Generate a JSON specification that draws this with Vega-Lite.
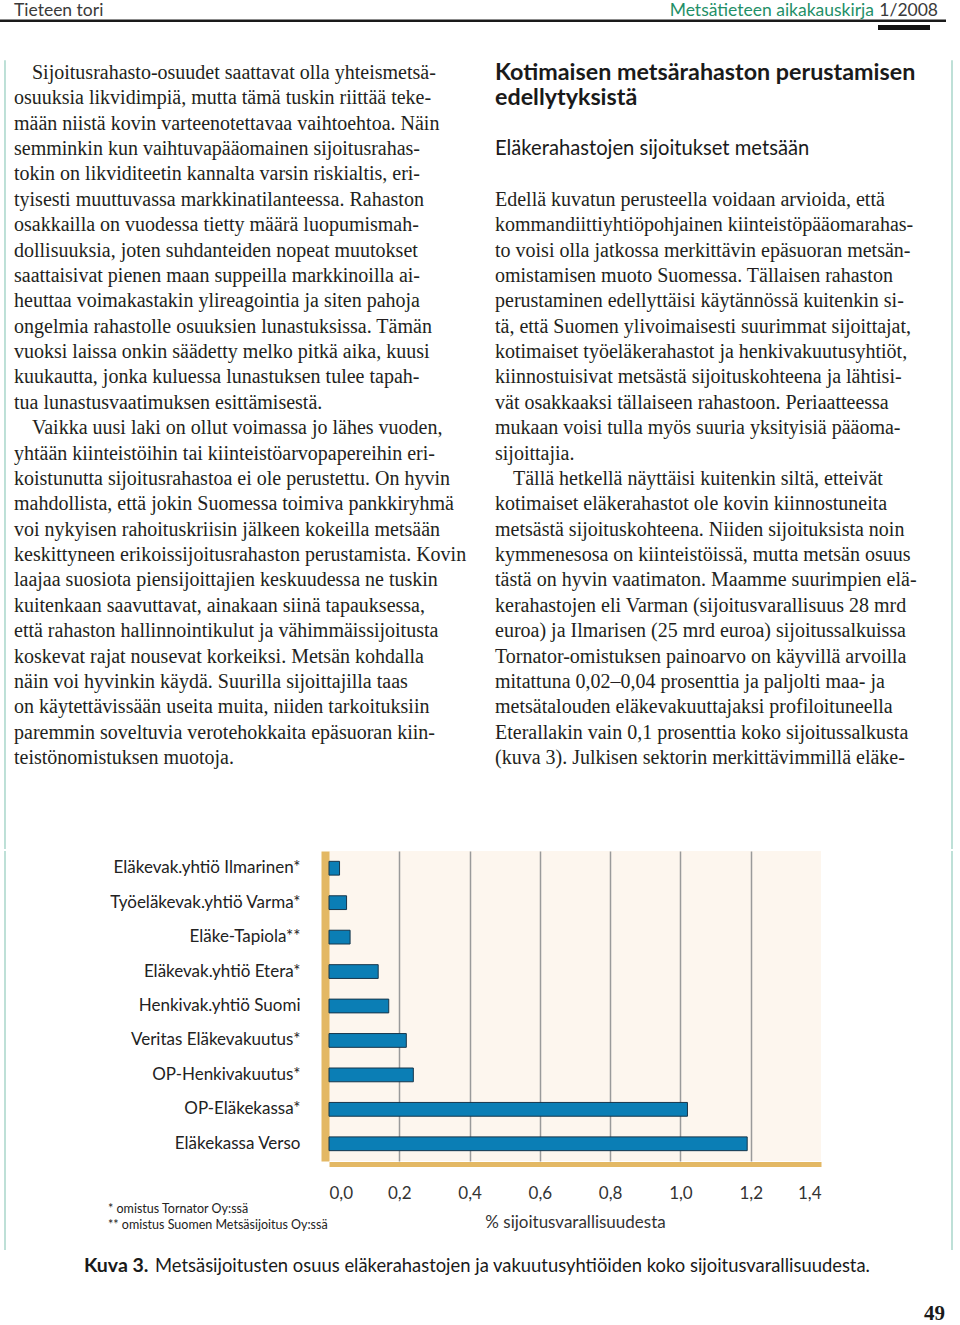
{
  "$schema": "https://vega.github.io/schema/vega-lite/v6.json",
  "background": "#ffffff",
  "padding": 0,
  "spacing": 0,
  "config": {"view": {"stroke": null}},
  "vconcat": [
    {
      "width": 946,
      "height": 30,
      "data": {"values": [
        {"item": "section", "text": "Tieteen tori"},
        {"item": "journal", "text": "Metsätieteen aikakauskirja"},
        {"item": "issue", "text": "1/2008"}
      ]},
      "resolve": {"scale": {"x": "independent", "y": "independent"}},
      "layer": [
        {"transform": [{"filter": "datum.item === 'section'"}],
         "mark": {"type": "text", "align": "left", "baseline": "middle", "dy": -4, "font": "Lato", "fontSize": 17.5, "color": "#3a3a3a"},
         "encoding": {
           "x": {"field": "item", "type": "nominal", "bandPosition": 0,
             "scale": {"type": "band", "round": false, "paddingInner": 0, "paddingOuter": 1, "align": 0.0222}, "axis": null},
           "text": {"field": "text"}}},
        {"transform": [{"filter": "datum.item === 'journal'"}],
         "mark": {"type": "text", "align": "right", "baseline": "middle", "dy": -4, "font": "Lato", "fontSize": 17.5, "color": "#1f8f68"},
         "encoding": {
           "x": {"field": "item", "type": "nominal", "bandPosition": 1,
             "scale": {"type": "band", "round": false, "paddingInner": 0, "paddingOuter": 1, "align": 0.8858}, "axis": null},
           "text": {"field": "text"}}},
        {"transform": [{"filter": "datum.item === 'issue'"}],
         "mark": {"type": "text", "align": "right", "baseline": "middle", "dy": -4, "font": "Lato", "fontSize": 17.5, "color": "#3a3a3a"},
         "encoding": {
           "x": {"field": "item", "type": "nominal", "bandPosition": 1,
             "scale": {"type": "band", "round": false, "paddingInner": 0, "paddingOuter": 1, "align": 0.9873}, "axis": null},
           "text": {"field": "text"}}},
        {"transform": [{"filter": "datum.item === 'section'"}],
         "mark": {"type": "rect", "color": "#1a1a1a", "opacity": 1},
         "encoding": {
           "x": {"field": "item", "type": "nominal",
             "scale": {"type": "band", "round": false, "paddingInner": 0, "paddingOuter": 0}, "axis": null},
           "y": {"field": "item", "type": "nominal",
             "scale": {"type": "band", "round": false, "paddingInner": 0.818, "paddingOuter": 1, "align": 0.709}, "axis": null}}},
        {"transform": [{"filter": "datum.item === 'issue'"}],
         "mark": {"type": "rect", "color": "#111111", "opacity": 1},
         "encoding": {
           "x": {"field": "item", "type": "nominal",
             "scale": {"type": "band", "round": false, "paddingInner": 0.8837, "paddingOuter": 1, "align": 0.9821}, "axis": null},
           "y": {"field": "item", "type": "nominal",
             "scale": {"type": "band", "round": false, "paddingInner": 0.6, "paddingOuter": 1, "align": 1}, "axis": null}}}
      ]
    },
    {
      "width": 960,
      "height": 819,
      "data": {"values": [
        {"col": "L", "line": 1, "kind": "para", "text": "Sijoitusrahasto-osuudet saattavat olla yhteismetsä-"},
        {"col": "L", "line": 2, "kind": "text", "text": "osuuksia likvidimpiä, mutta tämä tuskin riittää teke-"},
        {"col": "L", "line": 3, "kind": "text", "text": "mään niistä kovin varteenotettavaa vaihtoehtoa. Näin"},
        {"col": "L", "line": 4, "kind": "text", "text": "semminkin kun vaihtuvapääomainen sijoitusrahas-"},
        {"col": "L", "line": 5, "kind": "text", "text": "tokin on likviditeetin kannalta varsin riskialtis, eri-"},
        {"col": "L", "line": 6, "kind": "text", "text": "tyisesti muuttuvassa markkinatilanteessa. Rahaston"},
        {"col": "L", "line": 7, "kind": "text", "text": "osakkailla on vuodessa tietty määrä luopumismah-"},
        {"col": "L", "line": 8, "kind": "text", "text": "dollisuuksia, joten suhdanteiden nopeat muutokset"},
        {"col": "L", "line": 9, "kind": "text", "text": "saattaisivat pienen maan suppeilla markkinoilla ai-"},
        {"col": "L", "line": 10, "kind": "text", "text": "heuttaa voimakastakin ylireagointia ja siten pahoja"},
        {"col": "L", "line": 11, "kind": "text", "text": "ongelmia rahastolle osuuksien lunastuksissa. Tämän"},
        {"col": "L", "line": 12, "kind": "text", "text": "vuoksi laissa onkin säädetty melko pitkä aika, kuusi"},
        {"col": "L", "line": 13, "kind": "text", "text": "kuukautta, jonka kuluessa lunastuksen tulee tapah-"},
        {"col": "L", "line": 14, "kind": "text", "text": "tua lunastusvaatimuksen esittämisestä."},
        {"col": "L", "line": 15, "kind": "para", "text": "Vaikka uusi laki on ollut voimassa jo lähes vuoden,"},
        {"col": "L", "line": 16, "kind": "text", "text": "yhtään kiinteistöihin tai kiinteistöarvopapereihin eri-"},
        {"col": "L", "line": 17, "kind": "text", "text": "koistunutta sijoitusrahastoa ei ole perustettu. On hyvin"},
        {"col": "L", "line": 18, "kind": "text", "text": "mahdollista, että jokin Suomessa toimiva pankkiryhmä"},
        {"col": "L", "line": 19, "kind": "text", "text": "voi nykyisen rahoituskriisin jälkeen kokeilla metsään"},
        {"col": "L", "line": 20, "kind": "text", "text": "keskittyneen erikoissijoitusrahaston perustamista. Kovin"},
        {"col": "L", "line": 21, "kind": "text", "text": "laajaa suosiota piensijoittajien keskuudessa ne tuskin"},
        {"col": "L", "line": 22, "kind": "text", "text": "kuitenkaan saavuttavat, ainakaan siinä tapauksessa,"},
        {"col": "L", "line": 23, "kind": "text", "text": "että rahaston hallinnointikulut ja vähimmäissijoitusta"},
        {"col": "L", "line": 24, "kind": "text", "text": "koskevat rajat nousevat korkeiksi. Metsän kohdalla"},
        {"col": "L", "line": 25, "kind": "text", "text": "näin voi hyvinkin käydä. Suurilla sijoittajilla taas"},
        {"col": "L", "line": 26, "kind": "text", "text": "on käytettävissään useita muita, niiden tarkoituksiin"},
        {"col": "L", "line": 27, "kind": "text", "text": "paremmin soveltuvia verotehokkaita epäsuoran kiin-"},
        {"col": "L", "line": 28, "kind": "text", "text": "teistönomistuksen muotoja."},
        {"col": "R", "line": 1, "kind": "heading", "text": "Kotimaisen metsärahaston perustamisen"},
        {"col": "R", "line": 2, "kind": "heading", "text": "edellytyksistä"},
        {"col": "R", "line": 4, "kind": "subheading", "text": "Eläkerahastojen sijoitukset metsään"},
        {"col": "R", "line": 6, "kind": "text", "text": "Edellä kuvatun perusteella voidaan arvioida, että"},
        {"col": "R", "line": 7, "kind": "text", "text": "kommandiittiyhtiöpohjainen kiinteistöpääomarahas-"},
        {"col": "R", "line": 8, "kind": "text", "text": "to voisi olla jatkossa merkittävin epäsuoran metsän-"},
        {"col": "R", "line": 9, "kind": "text", "text": "omistamisen muoto Suomessa. Tällaisen rahaston"},
        {"col": "R", "line": 10, "kind": "text", "text": "perustaminen edellyttäisi käytännössä kuitenkin si-"},
        {"col": "R", "line": 11, "kind": "text", "text": "tä, että Suomen ylivoimaisesti suurimmat sijoittajat,"},
        {"col": "R", "line": 12, "kind": "text", "text": "kotimaiset työeläkerahastot ja henkivakuutusyhtiöt,"},
        {"col": "R", "line": 13, "kind": "text", "text": "kiinnostuisivat metsästä sijoituskohteena ja lähtisi-"},
        {"col": "R", "line": 14, "kind": "text", "text": "vät osakkaaksi tällaiseen rahastoon. Periaatteessa"},
        {"col": "R", "line": 15, "kind": "text", "text": "mukaan voisi tulla myös suuria yksityisiä pääoma-"},
        {"col": "R", "line": 16, "kind": "text", "text": "sijoittajia."},
        {"col": "R", "line": 17, "kind": "para", "text": "Tällä hetkellä näyttäisi kuitenkin siltä, etteivät"},
        {"col": "R", "line": 18, "kind": "text", "text": "kotimaiset eläkerahastot ole kovin kiinnostuneita"},
        {"col": "R", "line": 19, "kind": "text", "text": "metsästä sijoituskohteena. Niiden sijoituksista noin"},
        {"col": "R", "line": 20, "kind": "text", "text": "kymmenesosa on kiinteistöissä, mutta metsän osuus"},
        {"col": "R", "line": 21, "kind": "text", "text": "tästä on hyvin vaatimaton. Maamme suurimpien elä-"},
        {"col": "R", "line": 22, "kind": "text", "text": "kerahastojen eli Varman (sijoitusvarallisuus 28 mrd"},
        {"col": "R", "line": 23, "kind": "text", "text": "euroa) ja Ilmarisen (25 mrd euroa) sijoitussalkuissa"},
        {"col": "R", "line": 24, "kind": "text", "text": "Tornator-omistuksen painoarvo on käyvillä arvoilla"},
        {"col": "R", "line": 25, "kind": "text", "text": "mitattuna 0,02–0,04 prosenttia ja paljolti maa- ja"},
        {"col": "R", "line": 26, "kind": "text", "text": "metsätalouden eläkevakuuttajaksi profiloituneella"},
        {"col": "R", "line": 27, "kind": "text", "text": "Eterallakin vain 0,1 prosenttia koko sijoitussalkusta"},
        {"col": "R", "line": 28, "kind": "text", "text": "(kuva 3). Julkisen sektorin merkittävimmillä eläke-"}
      ]},
      "encoding": {
        "x": {"field": "col", "type": "nominal", "bandPosition": 0,
          "scale": {"type": "band", "round": false, "domain": ["L", "R"], "paddingInner": 0.1, "paddingOuter": 0.04792, "align": 0.3037}, "axis": null},
        "y": {"field": "line", "type": "ordinal",
          "scale": {"type": "band", "round": false, "domain": [0, 1, 2, 3, 4, 5, 6, 7, 8, 9, 10, 11, 12, 13, 14, 15, 16, 17, 18, 19, 20, 21, 22, 23, 24, 25, 26, 27, 28, 29, 30, 31], "paddingInner": 0, "paddingOuter": 0.141, "align": 0.69}, "axis": null},
        "text": {"field": "text"}
      },
      "resolve": {"scale": {"x": "independent"}},
      "layer": [
        {"transform": [{"filter": "datum.kind === 'text'"}],
         "mark": {"type": "text", "align": "left", "baseline": "middle", "font": "Liberation Serif", "fontSize": 20, "color": "#231f20"}},
        {"transform": [{"filter": "datum.kind === 'para'"}],
         "mark": {"type": "text", "align": "left", "baseline": "middle", "dx": 18, "font": "Liberation Serif", "fontSize": 20, "color": "#231f20"}},
        {"transform": [{"filter": "datum.kind === 'heading'"}],
         "mark": {"type": "text", "align": "left", "baseline": "middle", "font": "Lato", "fontWeight": "bold", "fontSize": 23.3, "color": "#1a1a1a"}},
        {"transform": [{"filter": "datum.kind === 'subheading'"}],
         "mark": {"type": "text", "align": "left", "baseline": "middle", "font": "Lato", "fontSize": 20.2, "color": "#1a1a1a"}},
        {"transform": [{"filter": "datum.line === 1 && datum.col === 'L'"}],
         "mark": {"type": "rule", "color": "#a8d6ca", "strokeWidth": 1.5},
         "encoding": {
           "x": {"field": "col", "type": "nominal", "bandPosition": 0,
             "scale": {"type": "band", "round": false, "domain": ["L"], "paddingInner": 0, "paddingOuter": 1, "align": 0.0078}, "axis": null},
           "y": {"field": "line", "type": "ordinal", "bandPosition": 0},
           "y2": {"value": "height"},
           "text": null}},
        {"transform": [{"filter": "datum.line === 1 && datum.col === 'R'"}],
         "mark": {"type": "rule", "color": "#a8d6ca", "strokeWidth": 1.5},
         "encoding": {
           "x": {"field": "col", "type": "nominal", "bandPosition": 1,
             "scale": {"type": "band", "round": false, "domain": ["R"], "paddingInner": 0, "paddingOuter": 1, "align": 0.9875}, "axis": null},
           "y": {"field": "line", "type": "ordinal", "bandPosition": 0},
           "y2": {"value": "height"},
           "text": null}}
      ]
    },
    {
      "bounds": "flush",
      "spacing": 0,
      "hconcat": [
        {
          "width": 329,
          "height": 399,
          "data": {"values": [
            {"group": "footnotes", "order": 1, "text": "*  omistus Tornator Oy:ssä"},
            {"group": "footnotes", "order": 2, "text": "** omistus Suomen Metsäsijoitus Oy:ssä"}
          ]},
          "resolve": {"scale": {"x": "independent"}},
          "layer": [
            {
              "mark": {"type": "text", "align": "left", "baseline": "middle", "font": "Lato", "fontSize": 12.5, "color": "#222222"},
              "encoding": {
                "x": {"field": "group", "type": "nominal", "bandPosition": 0,
                  "scale": {"type": "band", "round": false, "paddingInner": 0, "paddingOuter": 1, "align": 0.4924}, "axis": null},
                "y": {"field": "order", "type": "quantitative",
                  "scale": {"domain": [-21.375, 3.5625], "reverse": true, "nice": false, "zero": false}, "axis": null},
                "text": {"field": "text"}
              }
            },
            {
              "transform": [{"filter": "datum.order === 1"}],
              "mark": {"type": "rule", "color": "#a8d6ca", "strokeWidth": 1.5},
              "encoding": {
                "x": {"field": "group", "type": "nominal", "bandPosition": 0,
                  "scale": {"type": "band", "round": false, "paddingInner": 0, "paddingOuter": 1, "align": 0.0228}, "axis": null}
              }
            }
          ]
        },
        {
          "width": 492,
          "height": 310,
          "view": {"fill": "#fdf6ee", "stroke": null},
          "data": {"values": [
            {"company": "Eläkevak.yhtiö Ilmarinen*", "share": 0.03},
            {"company": "Työeläkevak.yhtiö Varma*", "share": 0.05},
            {"company": "Eläke-Tapiola**", "share": 0.06},
            {"company": "Eläkevak.yhtiö Etera*", "share": 0.14},
            {"company": "Henkivak.yhtiö Suomi", "share": 0.17},
            {"company": "Veritas Eläkevakuutus*", "share": 0.22},
            {"company": "OP-Henkivakuutus*", "share": 0.24},
            {"company": "OP-Eläkekassa*", "share": 1.02},
            {"company": "Eläkekassa Verso", "share": 1.19}
          ]},
          "mark": {"type": "bar", "fill": "#0b7eb5", "stroke": "#17364b", "strokeWidth": 1},
          "encoding": {
            "y": {"field": "company", "type": "nominal", "sort": null,
              "scale": {"type": "band", "round": false, "paddingInner": 0.6, "paddingOuter": 0.3},
              "axis": {"title": null, "ticks": false, "grid": false, "domain": true, "domainColor": "#e3b864", "domainWidth": 8, "offset": 4,
                "labelFont": "Lato", "labelFontSize": 17, "labelColor": "#222222", "labelPadding": 25, "labelLimit": 320}},
            "x": {"field": "share", "type": "quantitative",
              "scale": {"domain": [0, 1.4], "nice": false, "zero": true},
              "axis": {"values": [0, 0.2, 0.4, 0.6, 0.8, 1.0, 1.2, 1.4],
                "labelExpr": "replace(format(datum.value, '.1f'), '.', ',')",
                "ticks": false, "domain": true, "domainColor": "#e3b864", "domainWidth": 5, "offset": 3,
                "grid": true, "gridColor": "#9a9a9a", "gridWidth": 1.5,
                "gridOpacity": {"condition": {"test": "datum.value === 0 || datum.value === 1.4", "value": 0}, "value": 1},
                "labelFont": "Lato", "labelFontSize": 17, "labelColor": "#333333", "labelPadding": 21,
                "title": "% sijoitusvarallisuudesta", "titleFont": "Lato", "titleFontSize": 17, "titleFontWeight": "normal", "titleColor": "#333333", "titlePadding": 13}}
          }
        },
        {
          "width": 131,
          "height": 399,
          "data": {"values": [{"edge": "right"}]},
          "mark": {"type": "rule", "color": "#a8d6ca", "strokeWidth": 1.5},
          "encoding": {
            "x": {"field": "edge", "type": "nominal", "bandPosition": 1,
              "scale": {"type": "band", "round": false, "paddingInner": 0, "paddingOuter": 0}, "axis": null}
          }
        }
      ]
    },
    {
      "width": 960,
      "height": 75,
      "data": {"values": [
        {"part": "label", "row": "caption", "text": "Kuva 3."},
        {"part": "text", "row": "caption", "text": "Metsäsijoitusten osuus eläkerahastojen ja vakuutusyhtiöiden koko sijoitusvarallisuudesta."},
        {"part": "folio", "row": "folio", "text": "49"}
      ]},
      "encoding": {
        "y": {"field": "row", "type": "nominal", "scale": {"type": "point", "domain": ["caption", "folio"], "padding": 0.28125, "align": 0.5556}, "axis": null},
        "text": {"field": "text"}
      },
      "resolve": {"scale": {"x": "independent"}},
      "layer": [
        {"transform": [{"filter": "datum.part === 'label'"}],
         "mark": {"type": "text", "align": "left", "baseline": "middle", "font": "Lato", "fontWeight": "bold", "fontSize": 19.5, "color": "#1a1a1a"},
         "encoding": {"x": {"field": "part", "type": "nominal", "bandPosition": 0,
           "scale": {"type": "band", "round": false, "paddingInner": 0, "paddingOuter": 1, "align": 0.13125}, "axis": null}}},
        {"transform": [{"filter": "datum.part === 'text'"}],
         "mark": {"type": "text", "align": "left", "baseline": "middle", "font": "Lato", "fontSize": 18.4, "color": "#1a1a1a"},
         "encoding": {"x": {"field": "part", "type": "nominal", "bandPosition": 0,
           "scale": {"type": "band", "round": false, "paddingInner": 0, "paddingOuter": 1, "align": 0.2422}, "axis": null}}},
        {"transform": [{"filter": "datum.part === 'folio'"}],
         "mark": {"type": "text", "align": "right", "baseline": "middle", "font": "Liberation Serif", "fontWeight": "bold", "fontSize": 21, "color": "#1a1a1a"},
         "encoding": {"x": {"field": "part", "type": "nominal", "bandPosition": 1,
           "scale": {"type": "band", "round": false, "paddingInner": 0, "paddingOuter": 1, "align": 0.9766}, "axis": null}}}
      ]
    }
  ]
}
